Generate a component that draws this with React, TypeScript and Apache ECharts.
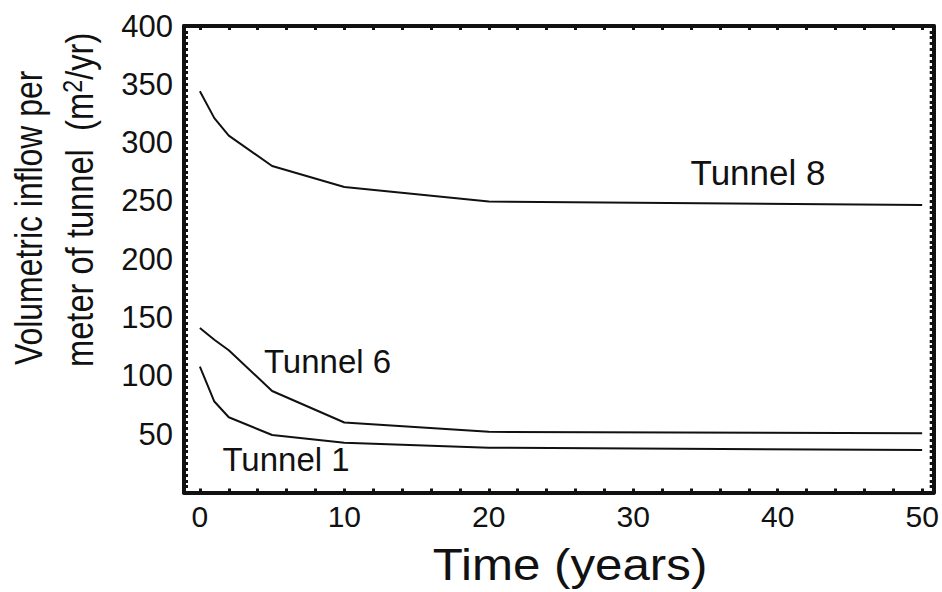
import React, { useEffect, useRef } from "react";
import * as echarts from "echarts";

const tunnel8: [number, number][] = [[0, 344], [1, 321], [2, 306], [5, 280], [10, 262], [20, 249.5], [50, 246.5]];
const tunnel6: [number, number][] = [[0, 141], [1, 131], [2, 122], [5, 87], [10, 60], [20, 52], [50, 50.8]];
const tunnel1: [number, number][] = [[0, 108], [1, 78], [2, 64.5], [5, 49.3], [10, 42.7], [20, 38.4], [50, 36.4]];

const xTickLabels = [0, 10, 20, 30, 40, 50];
const xTicks = [0, 2, 4, 6, 8, 10, 12, 14, 16, 18, 20, 22, 24, 26, 28, 30, 32, 34, 36, 38, 40, 42, 44, 46, 48, 50];
const yTickLabels = [50, 100, 150, 200, 250, 300, 350, 400];
const yTicks = Array.from({ length: 81 }, (_, i) => i * 5);

const FONT = "'Liberation Sans', Arial, Helvetica, sans-serif";
const INK = "#111";

export default function App() {
  const ref = useRef<HTMLDivElement>(null);
  useEffect(() => {
    if (!ref.current) return;
    const chart = echarts.init(ref.current, undefined, { renderer: "svg" });
    const axisLine = { show: true, onZero: false, lineStyle: { color: INK, width: 4 } };
    const tick = (vals: number[]) => ({
      show: true,
      inside: true,
      length: 4,
      customValues: vals,
      lineStyle: { color: INK, width: 3 },
    });
    const mkLine = (name: string, data: [number, number][]) => ({
      name,
      type: "line",
      data,
      showSymbol: false,
      symbol: "none",
      smooth: false,
      lineStyle: { color: INK, width: 2 },
    });
    chart.setOption({
      animation: false,
      backgroundColor: "#fff",
      grid: { left: 184, right: 8.3, top: 26, bottom: 99.5, containLabel: false },
      xAxis: [
        {
          type: "value",
          min: -1.1,
          max: 50.8,
          position: "bottom",
          axisLine,
          axisTick: tick(xTicks),
          axisLabel: {
            customValues: xTickLabels,
            fontSize: 30,
            color: INK,
            fontFamily: FONT,
            margin: 9,
          },
          splitLine: { show: false },
        },
        {
          type: "value",
          min: -1.1,
          max: 50.8,
          position: "top",
          axisLine,
          axisTick: tick(xTicks),
          axisLabel: { show: false },
          splitLine: { show: false },
        },
      ],
      yAxis: [
        {
          type: "value",
          min: 0,
          max: 400,
          position: "left",
          axisLine,
          axisTick: tick(yTicks),
          axisLabel: {
            customValues: yTickLabels,
            fontSize: 31,
            color: INK,
            fontFamily: FONT,
            margin: 11,
          },
          splitLine: { show: false },
        },
        {
          type: "value",
          min: 0,
          max: 400,
          position: "right",
          axisLine,
          axisTick: tick(yTicks),
          axisLabel: { show: false },
          splitLine: { show: false },
        },
      ],
      series: [mkLine("Tunnel 8", tunnel8), mkLine("Tunnel 6", tunnel6), mkLine("Tunnel 1", tunnel1)],
      graphic: [
        {
          type: "text",
          x: 570,
          y: 565,
          scaleX: 1.12,
          style: {
            text: "Time (years)",
            fontSize: 44,
            fontFamily: FONT,
            fill: INK,
            textAlign: "center",
            textVerticalAlign: "middle",
          },
        },
        {
          type: "text",
          x: 28,
          y: 365,
          rotation: Math.PI / 2,
          scaleX: 0.84,
          style: {
            text: "Volumetric inflow per",
            fontSize: 38,
            fontFamily: FONT,
            fill: INK,
            textAlign: "left",
            textVerticalAlign: "middle",
          },
        },
        {
          type: "text",
          x: 80,
          y: 367,
          rotation: Math.PI / 2,
          scaleX: 0.86,
          style: {
            text: "{n|meter of tunnel  (m}{s|2}{n|/yr)}",
            fontFamily: FONT,
            fill: INK,
            textAlign: "left",
            textVerticalAlign: "middle",
            rich: {
              n: { fontSize: 38, fontFamily: FONT, fill: INK, lineHeight: 42 },
              s: { fontSize: 27, fontFamily: FONT, fill: INK, lineHeight: 27, verticalAlign: "top" },
            },
          },
        },
        {
          type: "text",
          x: 758,
          y: 172.5,
          style: { text: "Tunnel 8", fontSize: 35, fontFamily: FONT, fill: INK, textAlign: "center", textVerticalAlign: "middle" },
        },
        {
          type: "text",
          x: 327.5,
          y: 361.5,
          style: { text: "Tunnel 6", fontSize: 33, fontFamily: FONT, fill: INK, textAlign: "center", textVerticalAlign: "middle" },
        },
        {
          type: "text",
          x: 286,
          y: 459,
          style: { text: "Tunnel 1", fontSize: 33, fontFamily: FONT, fill: INK, textAlign: "center", textVerticalAlign: "middle" },
        },
      ],
    });
    return () => chart.dispose();
  }, []);
  return (
    <div
      ref={ref}
      style={{ position: "fixed", left: 0, top: 0, width: 942, height: 592, background: "#fff" }}
    />
  );
}
